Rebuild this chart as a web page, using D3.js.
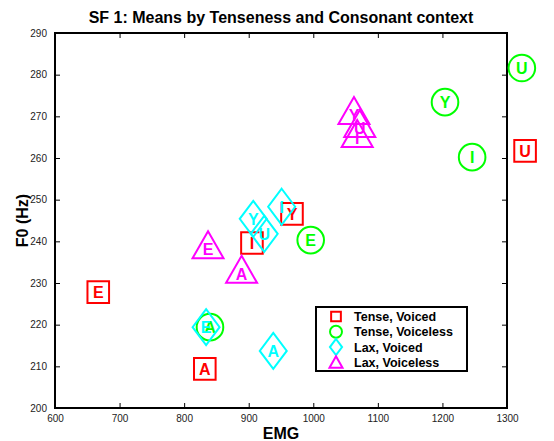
<!DOCTYPE html>
<html>
<head>
<meta charset="utf-8">
<script src="https://cdn.jsdelivr.net/npm/d3@7"></script>
<style>
  html, body { margin: 0; padding: 0; background: #fff; }
  svg { display: block; font-family: "Liberation Sans", Arial, Helvetica, sans-serif; }
</style>
</head>
<body>
<svg id="chart" width="554" height="441"></svg>
<script>
// Mean EMG vs F0 for each vowel, split by tenseness and consonant voicing
const tenseVoiced    = [{v:"E",emg:667,f0:227.8},{v:"A",emg:832,f0:209.4},{v:"I",emg:905,f0:239.6},{v:"Y",emg:967,f0:246.6},{v:"U",emg:1328,f0:261.7}];
const tenseVoiceless = [{v:"A",emg:840,f0:219.4},{v:"E",emg:996,f0:240.3},{v:"Y",emg:1204,f0:273.4},{v:"I",emg:1246,f0:260.2},{v:"U",emg:1323,f0:281.6}];
const laxVoiced      = [{v:"E",emg:834,f0:219.4},{v:"A",emg:938,f0:213.7},{v:"Y",emg:907,f0:245.4},{v:"U",emg:924,f0:241.8},{v:"I",emg:951,f0:248.3}];
const laxVoiceless   = [{v:"E",emg:837,f0:238.1},{v:"A",emg:889,f0:232.2},{v:"Y",emg:1063,f0:270.3},{v:"U",emg:1072,f0:267.2},{v:"I",emg:1068,f0:264.8}];

const seriesNames = ["Tense, Voiced", "Tense, Voiceless", "Lax, Voiced", "Lax, Voiceless"];
const seriesData = [tenseVoiced, tenseVoiceless, laxVoiced, laxVoiceless];
const seriesColors = ["#ff0000", "#00ff00", "#00ffff", "#ff00ff"];
const seriesShapes = ["square", "circle", "diamond", "triangle"];

const xTicks = [600, 700, 800, 900, 1000, 1100, 1200, 1300];
const yTicks = [200, 210, 220, 230, 240, 250, 260, 270, 280, 290];

const titleText = "SF 1: Means by Tenseness and Consonant context";
const xLabel = "EMG";
const yLabel = "F0 (Hz)";

const svg = d3.select("#chart");
const plot = { left: 55, right: 507, top: 33, bottom: 408 };

const x = d3.scaleLinear().domain([600, 1300]).range([plot.left, plot.right]);
const y = d3.scaleLinear().domain([200, 290]).range([plot.bottom, plot.top]);

// marker outline path for a shape, scaled by s (1 = plot size)
function shapePath(shape, s) {
  const p = d3.path();
  if (shape === "square") {
    const h = 10.8 * s;
    p.rect(-h, -h, 2 * h, 2 * h);
  } else if (shape === "circle") {
    const r = 13.3 * s;
    p.arc(0, 0, r, 0, 2 * Math.PI);
  } else if (shape === "diamond") {
    const w = 13.5 * s, h = 18 * s;
    p.moveTo(0, -h); p.lineTo(w, 0); p.lineTo(0, h); p.lineTo(-w, 0); p.closePath();
  } else {
    // triangle drawn around its centroid
    const w = 15.5 * s, h = 27 * s;
    p.moveTo(0, -2 * h / 3); p.lineTo(w, h / 3); p.lineTo(-w, h / 3); p.closePath();
  }
  return p.toString();
}

// axes (ticks pointing inward on all four sides)
const tickLen = 5;
const axisG = svg.append("g");
const xBottom = d3.axisBottom(x).tickValues(xTicks).tickSize(-tickLen).tickPadding(7).tickFormat(d3.format("d"));
const xTop = d3.axisTop(x).tickValues(xTicks).tickSize(-tickLen).tickFormat("");
const yLeft = d3.axisLeft(y).tickValues(yTicks).tickSize(-tickLen).tickPadding(8).tickFormat(d3.format("d"));
const yRight = d3.axisRight(y).tickValues(yTicks).tickSize(-tickLen).tickFormat("");

function styleAxis(g) {
  g.select(".domain").remove();
  g.selectAll(".tick line").attr("stroke", "#000").attr("stroke-width", 1);
  g.selectAll(".tick text").attr("fill", "#222").style("font-size", "10px").style("font-family", "Liberation Sans, Arial, sans-serif");
}
axisG.append("g").attr("transform", `translate(0,${plot.bottom})`).call(xBottom).call(styleAxis);
axisG.append("g").attr("transform", `translate(0,${plot.top})`).call(xTop).call(styleAxis);
axisG.append("g").attr("transform", `translate(${plot.left},0)`).call(yLeft).call(styleAxis);
axisG.append("g").attr("transform", `translate(${plot.right},0)`).call(yRight).call(styleAxis);

// frame
svg.append("rect")
  .attr("x", plot.left).attr("y", plot.top)
  .attr("width", plot.right - plot.left).attr("height", plot.bottom - plot.top)
  .attr("fill", "none").attr("stroke", "#000").attr("stroke-width", 2);

// data markers with vowel letters
seriesData.forEach((data, i) => {
  const g = svg.append("g");
  const pts = g.selectAll("g.pt").data(data).enter().append("g")
    .attr("class", "pt")
    .attr("transform", d => `translate(${x(d.emg)},${y(d.f0)})`);
  pts.append("path")
    .attr("d", shapePath(seriesShapes[i], 1))
    .attr("fill", "none")
    .attr("stroke", seriesColors[i])
    .attr("stroke-width", 2);
  pts.append("text")
    .attr("text-anchor", "middle")
    .attr("dy", "0.36em")
    .attr("fill", seriesColors[i])
    .style("font-size", "16px")
    .style("font-weight", "bold")
    .text(d => d.v);
});

// title and axis labels
svg.append("text")
  .attr("x", (plot.left + plot.right) / 2).attr("y", 23)
  .attr("text-anchor", "middle")
  .style("font-size", "16px").style("font-weight", "bold")
  .text(titleText);
svg.append("text")
  .attr("x", (plot.left + plot.right) / 2).attr("y", 439)
  .attr("text-anchor", "middle")
  .style("font-size", "16px").style("font-weight", "bold")
  .text(xLabel);
svg.append("text")
  .attr("transform", `translate(28,${(plot.top + plot.bottom) / 2}) rotate(-90)`)
  .attr("text-anchor", "middle")
  .style("font-size", "16px").style("font-weight", "bold")
  .text(yLabel);

// legend
const legend = svg.append("g").attr("transform", "translate(316,307)");
legend.append("rect")
  .attr("width", 151).attr("height", 64)
  .attr("fill", "#fff").attr("stroke", "#000").attr("stroke-width", 2);
seriesNames.forEach((name, i) => {
  const row = legend.append("g").attr("transform", `translate(20,${9.5 + i * 15.3})`);
  row.append("path")
    .attr("d", shapePath(seriesShapes[i], seriesShapes[i] === "triangle" ? 0.42 : 0.45))
    .attr("fill", "none").attr("stroke", seriesColors[i]).attr("stroke-width", 2)
    .attr("transform", seriesShapes[i] === "triangle" ? "translate(0,1.5)" : null);
  row.append("text")
    .attr("x", 18).attr("dy", "0.36em")
    .style("font-size", "12.5px").style("font-weight", "bold")
    .text(name);
});
</script>
</body>
</html>
